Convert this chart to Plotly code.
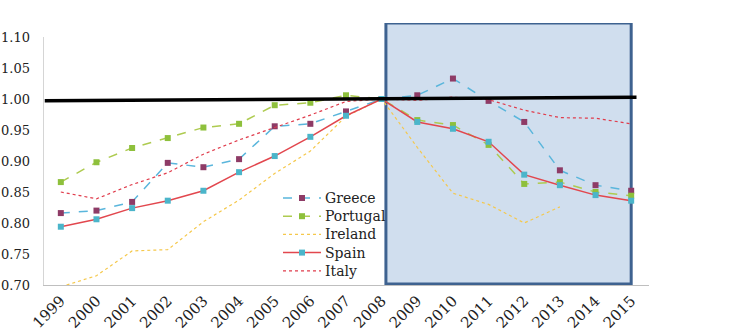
import plotly.graph_objects as go

years = [str(y) for y in range(1999, 2016)]
greece = [0.816, 0.820, 0.834, 0.897, 0.890, 0.903, 0.956, 0.960, 0.980, 1.000,
          1.006, 1.033, 0.997, 0.963, 0.885, 0.861, 0.852]
portugal = [0.866, 0.898, 0.921, 0.937, 0.954, 0.960, 0.990, 0.994, 1.006, 1.000,
            0.966, 0.958, 0.926, 0.863, 0.866, 0.850, 0.844]
ireland = [0.697, 0.715, 0.755, 0.757, 0.802, 0.837, 0.880, 0.916, 0.972, 1.000,
           0.922, 0.848, 0.830, 0.800, 0.826, None, None]
spain = [0.794, 0.806, 0.824, 0.836, 0.852, 0.882, 0.908, 0.939, 0.973, 1.000,
         0.963, 0.952, 0.931, 0.878, 0.861, 0.845, 0.836]
italy = [0.850, 0.839, 0.862, 0.881, 0.911, 0.934, 0.954, 0.974, 0.996, 1.000,
         0.998, 1.003, 0.999, 0.982, 0.970, 0.969, 0.960]
ytick_vals = [0.70, 0.75, 0.80, 0.85, 0.90, 0.95, 1.00, 1.05, 1.10]
ytick_text = ["0.70", "0.75", "0.80", "0.85", "0.90", "0.95", "1.00", "1.05", "1.10"]
series_names = ["Greece", "Portugal", "Ireland", "Spain", "Italy"]

FONT = "DejaVu Serif"
LEG_SIZE = 14

styles = {
    "Greece": dict(line=dict(color="#5AB6DC", width=1.5, dash="dash"), marker="#8E3B66"),
    "Portugal": dict(line=dict(color="#AECB50", width=1.5, dash="dash"), marker="#8EC03C"),
    "Ireland": dict(line=dict(color="#F5C84B", width=1.2, dash="dot"), marker=None),
    "Spain": dict(line=dict(color="#E2474E", width=1.5, dash="solid"), marker="#4BB5CA"),
    "Italy": dict(line=dict(color="#E03C4C", width=1.2, dash="dot"), marker=None),
}
values = {"Greece": greece, "Portugal": portugal, "Ireland": ireland,
          "Spain": spain, "Italy": italy}

fig = go.Figure()
for name in series_names:
    st = styles[name]
    if st["marker"]:
        fig.add_trace(go.Scatter(x=years, y=values[name], name=name, mode="lines+markers",
                                 line=st["line"],
                                 marker=dict(symbol="square", size=6, color=st["marker"])))
    else:
        fig.add_trace(go.Scatter(x=years, y=values[name], name=name, mode="lines",
                                 line=st["line"]))

# plot area geometry (px) for the hand-built legend
L, R, T, B = 43, 80, 23, 48
W, H = 729, 333
pw, ph = W - L - R, H - T - B


def px_x(p):
    return (p - L) / pw


def px_y(p):
    return (H - B - p) / ph


shapes = [
    dict(type="rect", xref="x", yref="y", x0=9.12, x1=16.0, y0=0.7015, y1=1.1226,
         fillcolor="rgba(196,214,234,0.8)", line=dict(color="#3E6290", width=3),
         layer="below"),
    dict(type="line", xref="x", yref="y", x0=-0.5, x1=-0.5, y0=0.70, y1=1.10,
         line=dict(color="#BFBFBF", width=1.3), layer="below"),
    dict(type="line", xref="x", yref="y", x0=-0.45, x1=16.15, y0=0.997, y1=1.003,
         line=dict(color="black", width=3.5), layer="above"),
]
leg_x0, leg_x1, leg_text = 283, 321, 324
leg_y0 = 198
leg_dy = LEG_SIZE * 1.3
for i, name in enumerate(series_names):
    st = styles[name]
    cy = leg_y0 + i * leg_dy
    yy = px_y(cy)
    shapes.append(dict(type="line", xref="paper", yref="paper",
                       x0=px_x(leg_x0), x1=px_x(leg_x1), y0=yy, y1=yy,
                       line=st["line"], layer="above"))
    if st["marker"]:
        cx = (leg_x0 + leg_x1) / 2
        shapes.append(dict(type="rect", xref="paper", yref="paper",
                           x0=px_x(cx - 3), x1=px_x(cx + 3),
                           y0=px_y(cy + 3), y1=px_y(cy - 3),
                           fillcolor=st["marker"], line=dict(width=0), layer="above"))

leg_mid = leg_y0 + 2 * leg_dy
annotations = [dict(xref="paper", yref="paper", x=px_x(leg_text), y=px_y(leg_mid),
                    text="<br>".join(series_names), showarrow=False,
                    xanchor="left", yanchor="middle", align="left", borderpad=0,
                    font=dict(family=FONT, size=LEG_SIZE, color="#222222"))]

fig.update_layout(
    width=W, height=H,
    margin=dict(l=L, r=R, t=T, b=B, autoexpand=False),
    paper_bgcolor="white", plot_bgcolor="white",
    font=dict(family=FONT, size=13, color="#222222"),
    shapes=shapes, annotations=annotations,
    xaxis=dict(type="category", range=[-0.5, 16.5], showgrid=False, zeroline=False,
               showline=True, linecolor="#BFBFBF", linewidth=1.3, tickangle=-45,
               ticks="", automargin=False, tickfont=dict(size=15, family=FONT)),
    yaxis=dict(range=[0.70, 1.1226], tickvals=ytick_vals, ticktext=ytick_text,
               showgrid=False, zeroline=False, showline=False, ticks="", automargin=False,
               ticklabelstandoff=12, tickfont=dict(size=13, family=FONT)),
    showlegend=False,
)

fig.write_html("out.html")
